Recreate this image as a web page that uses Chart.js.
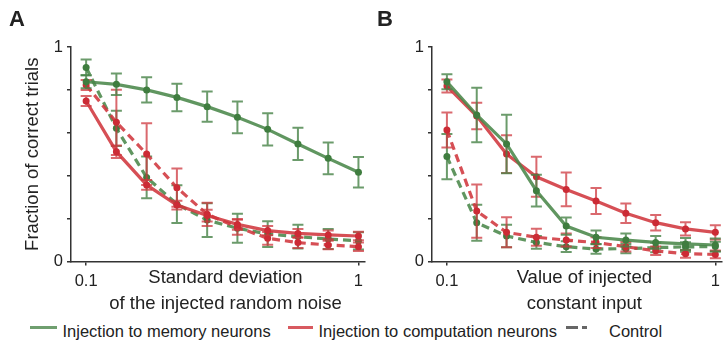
<!DOCTYPE html>
<html>
<head>
<meta charset="utf-8">
<script src="https://cdn.jsdelivr.net/npm/chart.js@4.4.1/dist/chart.umd.min.js"></script>
<style>
  html, body { margin: 0; padding: 0; background: #fff; }
  #fig { position: relative; width: 726px; height: 345px; font-family: 'Liberation Sans', Arial, sans-serif; color: #222; overflow: hidden; }
  #fig canvas { position: absolute; top: 0; }
  .panel { position: absolute; top: 8px; font-size: 22px; font-weight: bold; line-height: 22px; }
  .legend { position: absolute; top: 321px; font-size: 16.5px; line-height: 20px; white-space: nowrap; }
  .swatch { position: absolute; top: 325.5px; height: 3.5px; }
</style>
</head>
<body>
<div id="fig">
  <canvas id="panelA" width="370" height="320" style="left:0"></canvas>
  <canvas id="panelB" width="360" height="320" style="left:366px"></canvas>
  <div class="panel" style="left:9px">A</div>
  <div class="panel" style="left:377px">B</div>

  <div class="swatch" style="left:30px;width:27px;background:#6f9f6f"></div>
  <div class="legend" style="left:62.5px">Injection to memory neurons</div>
  <div class="swatch" style="left:288px;width:25px;background:#d85a60"></div>
  <div class="legend" style="left:318.5px">Injection to computation neurons</div>
  <div class="swatch" style="left:566px;width:12px;background:#666"></div>
  <div class="swatch" style="left:581.5px;width:5px;background:#666"></div>
  <div class="legend" style="left:609px">Control</div>
</div>
<script>
// x positions of the measurements (noise SD / input value)
const xValues = [0.1, 0.2, 0.3, 0.4, 0.5, 0.6, 0.7, 0.8, 0.9, 1.0]
const xTickValues = [0.1, 1]
const yLabelled = [0, 1]

// Panel A: injected random noise
const memA        = [0.838, 0.826, 0.800, 0.765, 0.722, 0.672, 0.616, 0.548, 0.481, 0.416]
const memAErr     = [0.030, 0.050, 0.059, 0.064, 0.070, 0.074, 0.075, 0.075, 0.074, 0.071]
const compA       = [0.748, 0.512, 0.357, 0.263, 0.214, 0.173, 0.144, 0.131, 0.124, 0.119]
const compAErr    = [0.023, 0.029, 0.023, 0.020, 0.027, 0.025, 0.022, 0.020, 0.020, 0.020]
const memCtrlA    = [0.905, 0.621, 0.392, 0.267, 0.193, 0.155, 0.128, 0.116, 0.105, 0.096]
const memCtrlAErr = [0.037, 0.082, 0.097, 0.088, 0.079, 0.068, 0.060, 0.055, 0.047, 0.040]
const compCtrlA   = [0.823, 0.649, 0.501, 0.344, 0.220, 0.160, 0.108, 0.088, 0.077, 0.069]
const compCtrlAErr= [0.023, 0.152, 0.144, 0.089, 0.054, 0.035, 0.030, 0.025, 0.020, 0.020]

// Panel B: injected constant input
const memB        = [0.838, 0.683, 0.548, 0.330, 0.165, 0.113, 0.100, 0.089, 0.082, 0.077]
const memBErr     = [0.035, 0.127, 0.136, 0.074, 0.040, 0.031, 0.030, 0.030, 0.028, 0.030]
const compB       = [0.818, 0.678, 0.501, 0.395, 0.336, 0.282, 0.225, 0.181, 0.152, 0.136]
const compBErr    = [0.030, 0.062, 0.088, 0.093, 0.079, 0.061, 0.045, 0.036, 0.031, 0.033]
const memCtrlB    = [0.489, 0.181, 0.119, 0.089, 0.069, 0.058, 0.060, 0.065, 0.068, 0.070]
const memCtrlBErr = [0.105, 0.084, 0.052, 0.030, 0.025, 0.022, 0.022, 0.022, 0.022, 0.022]
const compCtrlB   = [0.613, 0.235, 0.136, 0.113, 0.100, 0.088, 0.069, 0.050, 0.036, 0.033]
const compCtrlBErr= [0.082, 0.124, 0.070, 0.040, 0.030, 0.025, 0.022, 0.020, 0.018, 0.018]

const GREEN_LINE = 'rgba(74,136,74,0.88)'
const GREEN_PT   = '#3f7d3f'
const GREEN_ERR  = 'rgba(70,130,70,0.8)'
const RED_LINE   = 'rgba(208,55,62,0.88)'
const RED_PT     = '#cc2b35'
const RED_ERR    = 'rgba(205,55,62,0.75)'
const AXIS       = '#333'
const FONT       = "'Liberation Sans', Arial, sans-serif"
const NB         = '\u00a0'

// vertical error bars drawn just before each line, through the chart's scales
const errorBars = {
  id: 'errorBars',
  beforeDatasetDraw(chart, args) {
    const ds = chart.data.datasets[args.index]
    if (!ds.errors) return
    const { ctx, scales: { x, y } } = chart
    ctx.save()
    ctx.strokeStyle = ds.errorColor
    ctx.lineWidth = 2
    ds.data.forEach((p, i) => {
      const px = x.getPixelForValue(p.x)
      const top = y.getPixelForValue(p.y + ds.errors[i])
      const bot = y.getPixelForValue(p.y - ds.errors[i])
      ctx.beginPath()
      ctx.moveTo(px, top); ctx.lineTo(px, bot)
      ctx.moveTo(px - 5.5, top); ctx.lineTo(px + 5.5, top)
      ctx.moveTo(px - 5.5, bot); ctx.lineTo(px + 5.5, bot)
      ctx.stroke()
    })
    ctx.restore()
  },
}

function line(values, errors, color, ptColor, errColor, dashed) {
  return {
    data: xValues.map((x, i) => ({ x, y: values[i] })),
    errors,
    errorColor: errColor,
    borderColor: color,
    borderWidth: 3.2,
    borderDash: dashed ? [8, 5] : [],
    pointRadius: 3.5,
    pointBorderWidth: 0,
    pointBackgroundColor: ptColor,
    tension: 0,
    fill: false,
  }
}

function renderPanel(id, sets, o) {
  new Chart(document.getElementById(id), {
    type: 'line',
    data: {
      datasets: [
        line(sets.mem, sets.memErr, GREEN_LINE, GREEN_PT, GREEN_ERR, false),
        line(sets.comp, sets.compErr, RED_LINE, RED_PT, RED_ERR, false),
        line(sets.compCtrl, sets.compCtrlErr, RED_LINE, RED_PT, RED_ERR, true),
        line(sets.memCtrl, sets.memCtrlErr, GREEN_LINE, GREEN_PT, GREEN_ERR, true),
      ],
    },
    options: {
      responsive: false,
      devicePixelRatio: 1,
      animation: false,
      layout: { padding: { top: 47, right: o.padRight, left: 0, bottom: 0 } },
      plugins: { legend: { display: false }, tooltip: { enabled: false } },
      scales: {
        x: {
          type: 'linear',
          min: 0.05,
          max: 1.02,
          afterBuildTicks: s => { s.ticks = xTickValues.map(v => ({ value: v })) },
          afterFit: s => { s.height = 58.5 },
          grid: { drawOnChartArea: false, drawTicks: true, tickLength: 4, color: AXIS, lineWidth: 1.5 },
          border: { display: true, color: AXIS, width: 1.5 },
          ticks: { color: '#222', padding: 6, font: { family: FONT, size: 16.5 }, callback: v => String(v), autoSkip: false, maxRotation: 0 },
          title: {
            display: true,
            text: o.xTitle,
            color: '#222',
            font: { family: FONT, size: 18.5, lineHeight: 1.38 },
            padding: { top: 0, bottom: 3.4 },
          },
        },
        y: {
          min: 0,
          max: 1,
          afterFit: s => { s.width = o.yWidth },
          grid: { drawOnChartArea: false, drawTicks: true, tickLength: 4, color: AXIS, lineWidth: 1.5 },
          border: { display: true, color: AXIS, width: 1.5 },
          ticks: {
            stepSize: 0.2,
            color: '#222',
            padding: 4,
            font: { family: FONT, size: 16.5 },
            callback: v => (yLabelled.includes(v) ? String(v) : ''),
          },
          title: {
            display: !!o.yTitle,
            text: o.yTitle,
            color: '#222',
            font: { family: FONT, size: 18.5, lineHeight: 1.2 },
            padding: { top: 21.5, bottom: 0 },
          },
        },
      },
    },
    plugins: [errorBars],
  })
}

// leading no-break spaces nudge the centred x titles right, as in the figure
const pad = n => NB.repeat(n)

renderPanel('panelA', {
  mem: memA, memErr: memAErr, comp: compA, compErr: compAErr,
  memCtrl: memCtrlA, memCtrlErr: memCtrlAErr, compCtrl: compCtrlA, compCtrlErr: compCtrlAErr,
}, { yWidth: 71, padRight: 5.5, xTitle: [pad(3) + 'Standard deviation', pad(3) + 'of the injected random noise'], yTitle: 'Fraction of correct trials' })

renderPanel('panelB', {
  mem: memB, memErr: memBErr, comp: compB, compErr: compBErr,
  memCtrl: memCtrlB, memCtrlErr: memCtrlBErr, compCtrl: compCtrlB, compCtrlErr: compCtrlBErr,
}, { yWidth: 66, padRight: 0.5, xTitle: [pad(3) + 'Value of injected', pad(3) + 'constant input'], yTitle: '' })
</script>
</body>
</html>
